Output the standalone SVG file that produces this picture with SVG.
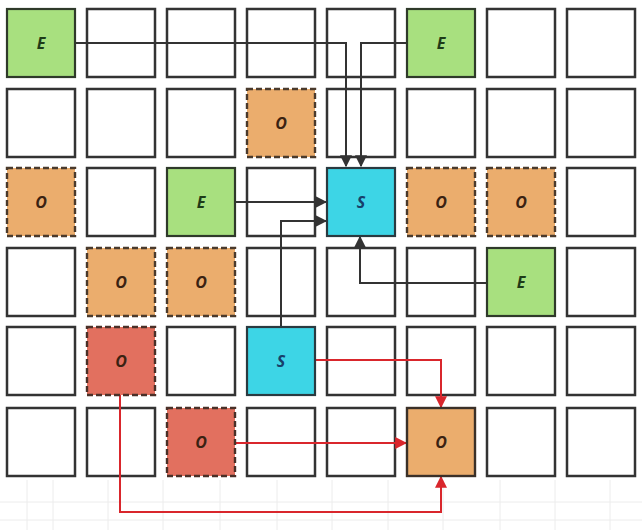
<svg xmlns="http://www.w3.org/2000/svg" width="642" height="530" viewBox="0 0 642 530">
<defs>
<style>
.cell{fill:#ffffff;stroke:#333333;stroke-width:2.5}
.e{fill:#a8e07f;stroke:#2f3a2a;stroke-width:2.2}
.s{fill:#3dd5e6;stroke:#2a3a40;stroke-width:2.2}
.o{fill:#ebad6d;stroke:#4a3a2c;stroke-width:2.4;stroke-dasharray:6 3}
.os{fill:#ebad6d;stroke:#3a3028;stroke-width:2.4}
.r{fill:#e2705f;stroke:#4a3028;stroke-width:2.4;stroke-dasharray:6 3}
.lbl{font-family:"Open Sans","Liberation Sans",sans-serif;font-size:16px;font-weight:bold;font-style:italic;text-anchor:middle}
.te{fill:#1e3a18}
.ts{fill:#17406a}
.to{fill:#3a2212}
.k{fill:none;stroke:#333333;stroke-width:2}
.red{fill:none;stroke:#d9262c;stroke-width:2}
.bg{stroke:#ececec;stroke-width:1}
</style>
<marker id="ak" viewBox="0 0 10 10" refX="9" refY="5" markerWidth="6" markerHeight="6" orient="auto"><path d="M0,0 L10,5 L0,10 z" fill="#333333"/></marker>
<marker id="ar" viewBox="0 0 10 10" refX="9" refY="5" markerWidth="6" markerHeight="6" orient="auto"><path d="M0,0 L10,5 L0,10 z" fill="#d9262c"/></marker>
</defs>
<rect width="642" height="530" fill="#ffffff"/>
<g id="bggrid">
<line class="bg" x1="0" y1="502" x2="642" y2="502"/>
<line class="bg" x1="0" y1="520" x2="642" y2="520"/>
<line class="bg" x1="27" y1="480" x2="27" y2="530"/>
<line class="bg" x1="53" y1="480" x2="53" y2="530"/>
<line class="bg" x1="108" y1="480" x2="108" y2="530"/>
<line class="bg" x1="163" y1="480" x2="163" y2="530"/>
<line class="bg" x1="220" y1="480" x2="220" y2="530"/>
<line class="bg" x1="277" y1="480" x2="277" y2="530"/>
<line class="bg" x1="332" y1="480" x2="332" y2="530"/>
<line class="bg" x1="388" y1="480" x2="388" y2="530"/>
<line class="bg" x1="443" y1="480" x2="443" y2="530"/>
<line class="bg" x1="500" y1="480" x2="500" y2="530"/>
<line class="bg" x1="555" y1="480" x2="555" y2="530"/>
<line class="bg" x1="610" y1="480" x2="610" y2="530"/>
</g>
<g id="grid">
<rect class="cell" x="87" y="9" width="68" height="68"/>
<rect class="cell" x="167" y="9" width="68" height="68"/>
<rect class="cell" x="247" y="9" width="68" height="68"/>
<rect class="cell" x="327" y="9" width="68" height="68"/>
<rect class="cell" x="487" y="9" width="68" height="68"/>
<rect class="cell" x="567" y="9" width="68" height="68"/>
<rect class="cell" x="7" y="89" width="68" height="68"/>
<rect class="cell" x="87" y="89" width="68" height="68"/>
<rect class="cell" x="167" y="89" width="68" height="68"/>
<rect class="cell" x="327" y="89" width="68" height="68"/>
<rect class="cell" x="407" y="89" width="68" height="68"/>
<rect class="cell" x="487" y="89" width="68" height="68"/>
<rect class="cell" x="567" y="89" width="68" height="68"/>
<rect class="cell" x="87" y="168" width="68" height="68"/>
<rect class="cell" x="247" y="168" width="68" height="68"/>
<rect class="cell" x="567" y="168" width="68" height="68"/>
<rect class="cell" x="7" y="248" width="68" height="68"/>
<rect class="cell" x="247" y="248" width="68" height="68"/>
<rect class="cell" x="327" y="248" width="68" height="68"/>
<rect class="cell" x="407" y="248" width="68" height="68"/>
<rect class="cell" x="567" y="248" width="68" height="68"/>
<rect class="cell" x="7" y="327" width="68" height="68"/>
<rect class="cell" x="167" y="327" width="68" height="68"/>
<rect class="cell" x="327" y="327" width="68" height="68"/>
<rect class="cell" x="407" y="327" width="68" height="68"/>
<rect class="cell" x="487" y="327" width="68" height="68"/>
<rect class="cell" x="567" y="327" width="68" height="68"/>
<rect class="cell" x="7" y="408" width="68" height="68"/>
<rect class="cell" x="87" y="408" width="68" height="68"/>
<rect class="cell" x="247" y="408" width="68" height="68"/>
<rect class="cell" x="327" y="408" width="68" height="68"/>
<rect class="cell" x="487" y="408" width="68" height="68"/>
<rect class="cell" x="567" y="408" width="68" height="68"/>
</g>
<g id="connectors">
<path class="k" d="M75,43 H346 V166" marker-end="url(#ak)"/>
<path class="k" d="M407,43 H361 V166" marker-end="url(#ak)"/>
<path class="k" d="M235,202 H326" marker-end="url(#ak)"/>
<path class="k" d="M281,327 V221 H326" marker-end="url(#ak)"/>
<path class="k" d="M487,283 H360 V237" marker-end="url(#ak)"/>
<path class="red" d="M315,360 H441 V407" marker-end="url(#ar)"/>
<path class="red" d="M235,443 H406" marker-end="url(#ar)"/>
<path class="red" d="M120,395 V512 H441 V477" marker-end="url(#ar)"/>
</g>
<g id="e1"><rect class="e" x="7" y="9" width="68" height="68"/><text class="lbl te" x="41" y="49">E</text></g>
<g id="e2"><rect class="e" x="407" y="9" width="68" height="68"/><text class="lbl te" x="441" y="49">E</text></g>
<g id="o1"><rect class="o" x="247" y="89" width="68" height="68"/><text class="lbl to" x="281" y="129">O</text></g>
<g id="o2"><rect class="o" x="7" y="168" width="68" height="68"/><text class="lbl to" x="41" y="208">O</text></g>
<g id="e3"><rect class="e" x="167" y="168" width="68" height="68"/><text class="lbl te" x="201" y="208">E</text></g>
<g id="s1"><rect class="s" x="327" y="168" width="68" height="68"/><text class="lbl ts" x="361" y="208">S</text></g>
<g id="o3"><rect class="o" x="407" y="168" width="68" height="68"/><text class="lbl to" x="441" y="208">O</text></g>
<g id="o4"><rect class="o" x="487" y="168" width="68" height="68"/><text class="lbl to" x="521" y="208">O</text></g>
<g id="o5"><rect class="o" x="87" y="248" width="68" height="68"/><text class="lbl to" x="121" y="288">O</text></g>
<g id="o6"><rect class="o" x="167" y="248" width="68" height="68"/><text class="lbl to" x="201" y="288">O</text></g>
<g id="e4"><rect class="e" x="487" y="248" width="68" height="68"/><text class="lbl te" x="521" y="288">E</text></g>
<g id="r1"><rect class="r" x="87" y="327" width="68" height="68"/><text class="lbl to" x="121" y="367">O</text></g>
<g id="s2"><rect class="s" x="247" y="327" width="68" height="68"/><text class="lbl ts" x="281" y="367">S</text></g>
<g id="r2"><rect class="r" x="167" y="408" width="68" height="68"/><text class="lbl to" x="201" y="448">O</text></g>
<g id="o7"><rect class="os" x="407" y="408" width="68" height="68"/><text class="lbl to" x="441" y="448">O</text></g>
</svg>
